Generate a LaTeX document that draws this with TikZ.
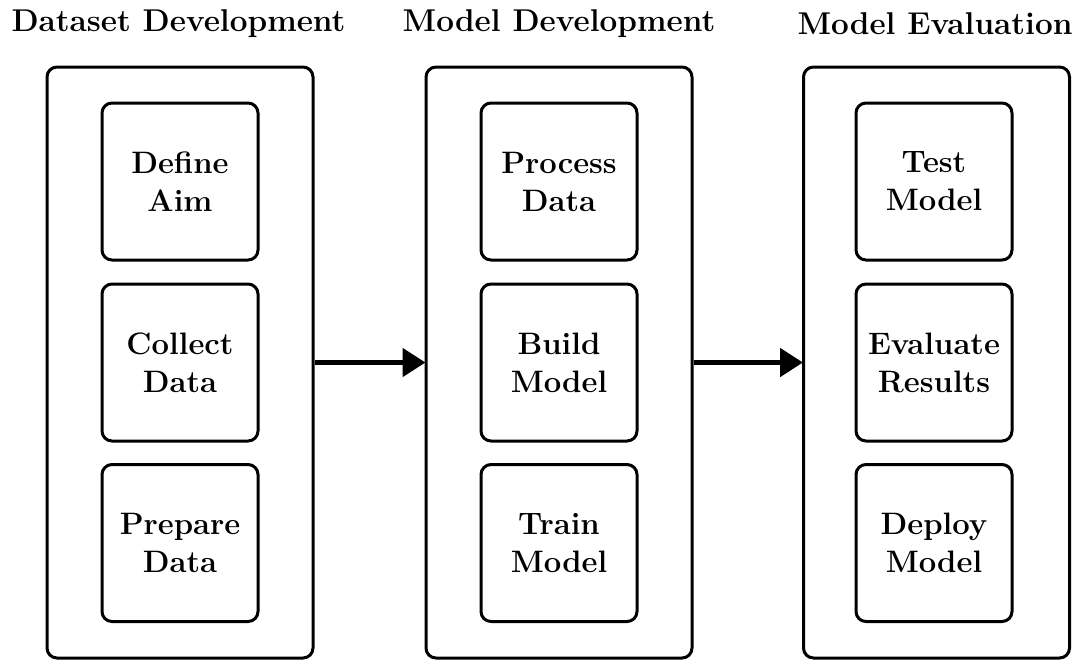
\documentclass[tikz,border=0pt]{standalone}
\usetikzlibrary{arrows.meta}
\tikzset{
  txt/.style={font=\fontsize{15.5}{19}\selectfont\bfseries, align=center},
  outerbox/.style={draw, line width=1.5pt, rounded corners=5pt, minimum width=133pt, minimum height=295.5pt, inner sep=0pt},
  innerbox/.style={draw, line width=1.5pt, rounded corners=5pt, minimum width=78pt, minimum height=78.5pt, inner sep=0pt, txt},
  title/.style={font=\fontsize{15.75}{19}\selectfont\bfseries, inner sep=0pt},
  flow/.style={line width=2.5pt, -{Triangle[length=11.5pt,width=14pt]}, shorten >=-0.5pt}
}
\begin{document}
\begin{tikzpicture}[x=0.5pt, y=-0.5pt]
\useasboundingbox (0,0) rectangle (1080,661);
% titles
\node[title] (t1) at (178.5,24) {Dataset Development};
\node[title] (t2) at (559,24) {Model Development};
\node[title] (t3) at (935,24) {Model Evaluation};
% outer boxes
\node[outerbox] (o1) at (180,362.5) {};
\node[outerbox] (o2) at (559,362.5) {};
\node[outerbox] (o3) at (936.5,362.5) {};
% inner boxes
\node[innerbox] (a1) at (180,181.5) {Define\\Aim};
\node[innerbox] (a2) at (180,362.5) {Collect\\Data};
\node[innerbox] (a3) at (180,543) {Prepare\\Data};
\node[innerbox] (b1) at (559,181.5) {Process\\Data};
\node[innerbox] (b2) at (559,362.5) {Build\\Model};
\node[innerbox] (b3) at (559,543) {Train\\Model};
\node[innerbox] (c1) at (934,181.5) {Test\\Model};
\node[innerbox] (c2) at (934,362.5) {Evaluate\\Results};
\node[innerbox] (c3) at (934,543) {Deploy\\Model};
% arrows
\draw[flow] (o1.east) -- (o2.west);
\draw[flow] (o2.east) -- (o3.west);
\end{tikzpicture}
\end{document}
